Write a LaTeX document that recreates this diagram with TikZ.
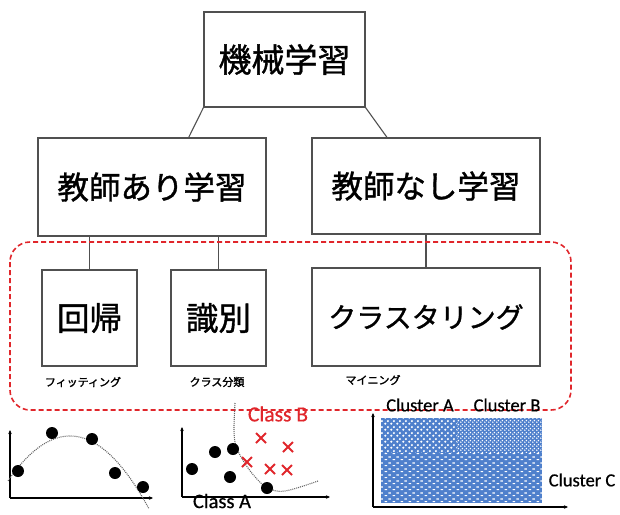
\documentclass[tikz,border=0pt]{standalone}
\usepackage{fontspec}
\setmainfont{Carlito}[FakeBold=0.6]
\newfontfamily\jp{Noto Sans CJK JP}[FakeBold=1.2]
\newfontfamily\jps{Noto Sans CJK JP}[FakeBold=1.8]
\usetikzlibrary{calc,arrows.meta,patterns.meta}
\definecolor{boxline}{HTML}{505050}
\definecolor{dred}{HTML}{E0262B}
\definecolor{cblue}{HTML}{4F80CC}
\tikzdeclarepattern{name=patA, type=uncolored,
  bounding box={(0pt,0pt) and (6pt,6pt)}, tile size={(6pt,6pt)},
  code={\fill (1.5pt,1.5pt) circle [radius=1.3pt]; \fill (4.5pt,4.5pt) circle [radius=1.3pt];}}
\tikzdeclarepattern{name=patB, type=uncolored,
  bounding box={(0pt,0pt) and (4pt,4pt)}, tile size={(4pt,4pt)},
  code={\fill (1pt,1pt) circle [radius=1.0pt]; \fill (3pt,3pt) circle [radius=1.0pt];}}
\tikzdeclarepattern{name=patC, type=uncolored,
  bounding box={(0pt,0pt) and (8pt,6pt)}, tile size={(8pt,6pt)},
  code={\fill (0.8pt,1pt) rectangle (3.6pt,2.2pt); \fill (4.8pt,4pt) rectangle (7.6pt,5.2pt);}}
\tikzset{
  catbox/.style={draw=boxline, line width=1.1pt, fill=white, inner sep=0pt, font=\jp},
  sublabel/.style={font=\jps\fontsize{11}{13}\selectfont, inner sep=0pt},
  conn/.style={draw=boxline, line width=1.1pt},
  axis/.style={line width=1.3pt, -{Stealth[length=4pt,width=3.5pt]}},
  dot/.style={fill=black},
  fitcurve/.style={line width=1.1pt, gray!80!black, dash pattern=on 1pt off 1pt},
  cross/.style={dred, line width=1.8pt},
  plotlbl/.style={inner sep=0pt, font=\fontsize{21.5}{24}\selectfont},
  clusterlbl/.style={inner sep=0pt, font=\fontsize{18.5}{22}\selectfont}
}
\begin{document}
\begin{tikzpicture}[x=1pt,y=-1pt]
\useasboundingbox (0,0) rectangle (620,514);
% nodes
\node[catbox, minimum width=161pt, minimum height=95pt, font=\jp\fontsize{33}{36}\selectfont] (ml) at (284.5,59.5) {機械学習};
\node[catbox, minimum width=228pt, minimum height=98pt, font=\jp\fontsize{31.5}{36}\selectfont] (sup) at (152,187) {教師あり学習};
\node[catbox, minimum width=228pt, minimum height=96pt, font=\jp\fontsize{31.5}{36}\selectfont] (uns) at (426,186) {教師なし学習};
\node[catbox, minimum width=95pt, minimum height=96pt, font=\jp\fontsize{32.5}{36}\selectfont] (reg) at (89.5,318) {回帰};
\node[catbox, minimum width=95pt, minimum height=96pt, font=\jp\fontsize{32.5}{36}\selectfont] (cls) at (218.5,318) {識別};
\node[catbox, minimum width=228pt, minimum height=98pt, font=\jp\fontsize{28}{32}\selectfont] (clu) at (426,317) {クラスタリング};
% sub labels
\node[sublabel] (lreg) at (83,382) {フィッティング};
\node[sublabel] (lcls) at (217,382) {クラス分類};
\node[sublabel] (lclu) at (373,380) {マイニング};
% connectors
\draw[conn] (ml.south west) -- ($(sup.north west)!0.66!(sup.north east)$);
\draw[conn] (ml.south east) -- ($(uns.north west)!0.33!(uns.north east)$);
\draw[conn] (reg.north |- sup.south) -- (reg.north);
\draw[conn] (cls.north |- sup.south) -- (cls.north);
\draw[conn] (uns.south) -- (clu.north);
% dashed group
\draw[dred, line width=1.6pt, dash pattern=on 5pt off 3pt, rounded corners=20pt] (10,242) rectangle (571,410);
% plot 1: regression
\draw[axis] (10,498) -- (10,430);
\draw[axis] (10,498) -- (153,498);
\draw[fitcurve] plot[domain=8:149, samples=60] (\x,{436+0.01167*(\x-70)*(\x-70)});
\foreach \p in {(18,471),(52,433),(92,439),(115,473),(143,487)} \fill[dot] \p circle (6);
% plot 2: classification
\draw[axis] (182,497) -- (182,427);
\draw[axis] (182,497) -- (330,497);
\draw[fitcurve] plot[smooth, tension=0.6] coordinates {(235,403) (234,430) (236,446) (244,462) (256,478) (268,488) (285,491) (318,481)};
\foreach \p in {(192,469),(215,452),(233,449),(230,477),(267,488)} \fill[dot] \p circle (6);
\foreach \p in {(261,438),(288,447),(247,462),(270,469),(287,470)}
  \draw[cross] \p ++(-5,-5) -- ++(10,10) \p ++(-5,5) -- ++(10,-10);
\node[plotlbl, text=dred] (cb) at (278,414) {Class B};
\node[plotlbl, font=\fontsize{20.5}{24}\selectfont] (ca) at (222,501) {Class A};
% plot 3: clustering
\fill[cblue] (381,418) rectangle (542,503);
\fill[pattern=patA, pattern color=white] (381,418) rectangle (457,452);
\fill[pattern=patB, pattern color=white] (457,418) rectangle (542,452);
\fill[pattern=patC, pattern color=white] (381,452) rectangle (542,503);
\draw[axis] (373,507) -- (373,413);
\draw[axis] (373,507) -- (568,507);
\node[clusterlbl] (cA) at (420,405) {Cluster A};
\node[clusterlbl] (cB) at (507,405) {Cluster B};
\node[clusterlbl] (cC) at (582,480) {Cluster C};
\end{tikzpicture}
\end{document}
